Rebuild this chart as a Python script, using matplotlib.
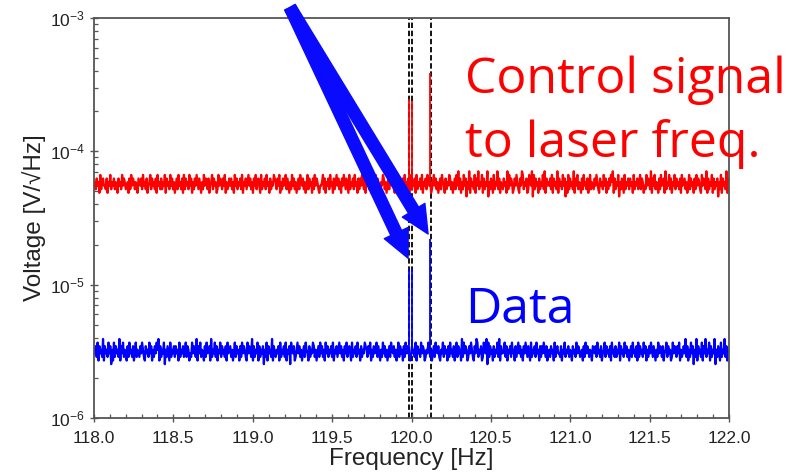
"""
Espectre de soroll: senyal de control al làser i dades, amb pics a ~120 Hz.
"""

import numpy as np
import matplotlib.pyplot as plt

# Nivells de fons (V/sqrt(Hz)) llegits de la imatge
red_level = 5.7e-5
blue_level = 3.15e-6

# Soroll del fons: cada dígit és una desviació estimada (0..9) al voltant del nivell
red_noise = (
    "45364527356443625473546354264537465345263746535426"
    "54637453624573645362745363547264537463524637453627"
    "36453746253647536425374653624573645237465364725346"
    "46352746354637254635746352647356427354637452635476"
    "53647253645736425374635246375463524736452637465324"
    "45736254637452635746352647536427354637452636475362"
    "64537264537465235476352463754632547364526374536247"
    "35462735463725463754623574635246375426354763524637"
    "48362537461538264537264835472635481536427354836254"
    "36452837465236475326487354623754817364526354738264"
    "54637264538264537461527364538264735426374536247354"
    "36475326453746253647582635471536427354636452735463"
    "47365243746538264735426374562835473625473645362745"
    "63524736452637465327465382635472635461537264538264"
)
blue_noise = (
    "54637264538264537461527364538264735426374536247354"
    "36475326453746253647582635471536427354636452735463"
    "47365243746538264735426374562835473625473645362745"
    "63524736452637465327465382635472635461537264538264"
    "35462735463725461754623574635246375426354763524637"
    "46352746354637254635746352647356427354637452635476"
    "53647253645736425374635246375463524736452637465324"
    "64537264537465235476352463754632547364526374536247"
    "36452837465236475326487354623754817364526354738264"
    "45736254637452635746352647536427354637452636475362"
    "45364527356443625473546354264537465345263746535426"
    "54637453624573645362745363547264537463524637453627"
    "36453746253647536425374653624573645237465364725346"
    "48362537461538264537264835472635481536427354836254"
)

# Pics (Hz) i alçades
peak_freqs = [119.986, 120.001, 120.118]
red_peaks = [2.45e-4, 2.4e-4, 3.9e-4]
blue_peaks = [1.3e-5, 1.3e-5, 2.2e-5]

# Línies discontínues verticals
dashed_freqs = [119.982, 120.005, 120.121]

# Fletxes: origen i puntes (Hz, V/sqrt(Hz))
arrow_start = (119.235, 1.2e-3)
arrow_tips = [(119.978, 1.58e-5), (120.104, 2.4e-5)]

x_ticks = [118.0, 118.5, 119.0, 119.5, 120.0, 120.5, 121.0, 121.5, 122.0]


def to_series(level, digits):
    dev = (np.array([int(c) for c in digits]) - 4.5) * 0.027
    return level * 10 ** dev


plt.rcParams['font.family'] = ['Liberation Sans', 'DejaVu Sans']
plt.rcParams['mathtext.fontset'] = 'custom'
plt.rcParams['mathtext.rm'] = 'Liberation Sans'
plt.rcParams['mathtext.it'] = 'Liberation Sans'

fig = plt.figure(figsize=(8.03, 4.72), dpi=100)
ax = fig.add_axes([0.117, 0.1144, 0.791, 0.8475])

for f in dashed_freqs:
    ax.axvline(f, color='black', lw=1.3, linestyle=(0, (3, 1.5)), zorder=1)

red_y = to_series(red_level, red_noise)
blue_y = to_series(blue_level, blue_noise)
ax.plot(np.linspace(118, 122, len(red_y)), red_y, color='#ff0000', lw=1.6, zorder=2)
ax.plot(np.linspace(118, 122, len(blue_y)), blue_y, color='#0000ff', lw=1.6, zorder=2)
ax.vlines(peak_freqs, red_level, red_peaks, color='#ff0000', lw=1.3, zorder=3)
ax.vlines(peak_freqs, blue_level, blue_peaks, color='#0000ff', lw=1.3, zorder=3)

ax.set_yscale('log')
ax.set_xlim(118, 122)
ax.set_ylim(1e-6, 1e-3)
ax.set_xticks(x_ticks)
ax.set_xticklabels(['{:.1f}'.format(t) for t in x_ticks])
ax.set_xticks(np.arange(118, 122.01, 0.1), minor=True)

for s in ax.spines.values():
    s.set_color('#555555')
    s.set_linewidth(1.3)
ax.tick_params(which='major', direction='inout', length=6, width=1.0,
               color='#555555', labelsize=12.5, labelcolor='#222222')
ax.tick_params(axis='x', which='major', pad=6)
ax.tick_params(which='minor', direction='in', length=3, width=0.9, color='#555555')

ax.set_xlabel('Frequency [Hz]', fontsize=17.5, color='#222222', labelpad=2)
ax.set_ylabel('Voltage [V/\u221aHz]', fontsize=17.5, color='#222222', labelpad=3)

for tip in arrow_tips:
    ax.annotate('', xy=tip, xytext=arrow_start, annotation_clip=False,
                arrowprops=dict(arrowstyle='simple,head_length=20,head_width=19,tail_width=8.5',
                                mutation_scale=1, color='#0a0aff', shrinkA=0, shrinkB=0,
                                clip_on=False),
                zorder=6)

fig.text(0.579, 0.803, 'Control signal', color='#ff0000', fontsize=36,
         family='Open Sans', va='baseline', ha='left')
fig.text(0.579, 0.667, 'to laser freq.', color='#ff0000', fontsize=36,
         family='Open Sans', va='baseline', ha='left')
fig.text(0.579, 0.316, 'Data', color='#0000ff', fontsize=36,
         family='Open Sans', va='baseline', ha='left')

fig.savefig('out.png', dpi=100)
